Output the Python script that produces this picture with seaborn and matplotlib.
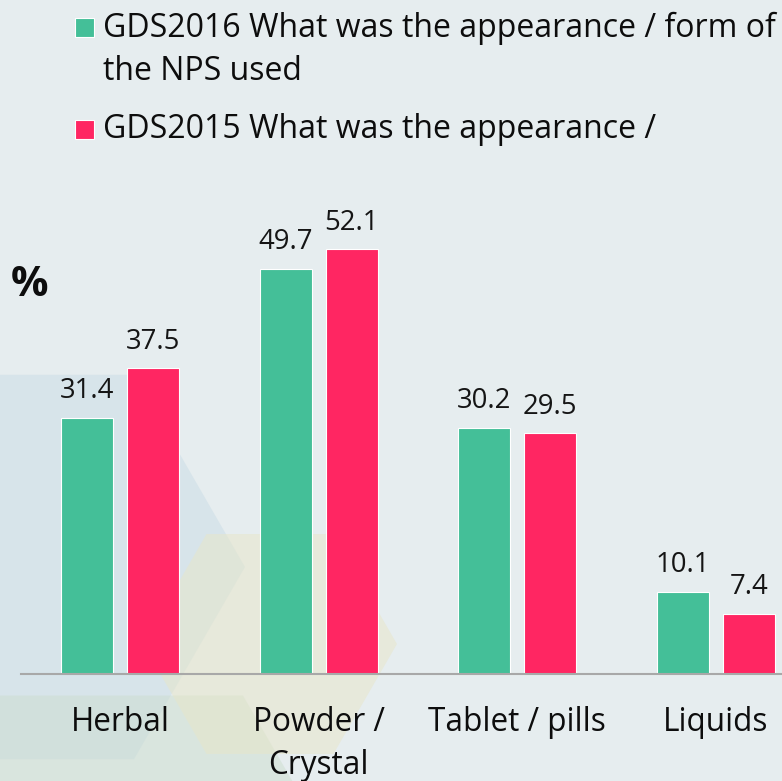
import matplotlib
matplotlib.use("Agg")
import matplotlib.pyplot as plt
from matplotlib.patches import Polygon, Rectangle
from matplotlib.transforms import IdentityTransform
import numpy as np
import pandas as pd
import seaborn as sns

# ---- data ----
categories = ["Herbal", "Powder /\nCrystal", "Tablet / pills", "Liquids"]
series_names = ["GDS2016 What was the appearance / form of\nthe NPS used",
                "GDS2015 What was the appearance /"]
values_2016 = [31.4, 49.7, 30.2, 10.1]
values_2015 = [37.5, 52.1, 29.5, 7.4]
series_colors = ["#44bf98", "#ff2662"]
y_unit = "%"

df = pd.DataFrame({
    "category": categories * 2,
    "value": values_2016 + values_2015,
    "series": [series_names[0]] * len(categories) + [series_names[1]] * len(categories),
})

plt.rcParams["font.family"] = ["Open Sans", "DejaVu Sans"]

W, H = 782, 781
fig = plt.figure(figsize=(W / 100, H / 100), dpi=100)
BG = "#e6edef"
fig.patch.set_facecolor(BG)


def hexagon(cx, cy, R, color, alpha):
    ang = np.deg2rad(np.arange(0, 360, 60))
    pts = [(cx + R * np.cos(a), H - (cy + R * np.sin(a))) for a in ang]
    p = Polygon(pts, closed=True, facecolor=color, edgecolor="none", alpha=alpha,
                transform=IdentityTransform(), zorder=-5)
    fig.add_artist(p)


# faint decorative background shapes
hexagon(23, 567, 222, "#c9dce6", 0.5)
hexagon(118, 912, 250, "#cddecf", 0.5)
hexagon(270, 644, 127, "#e8e6c8", 0.5)

# ---- axes ----
ax = fig.add_axes([20.6 / W, 107 / H, 794.8 / W, 489.4 / H])
ax.set_facecolor("none")
sns.barplot(data=df, x="category", y="value", hue="series", order=categories,
            hue_order=series_names, palette=series_colors, saturation=1,
            width=0.664, gap=0.212, edgecolor="white", linewidth=0.8,
            legend=False, ax=ax)
ax.set_ylim(0, 60)
ax.set_xlim(-0.5, len(categories) - 0.5)
ax.set_xlabel("")
ax.set_ylabel("")
ax.set_yticks([])
for s in ["left", "top", "right"]:
    ax.spines[s].set_visible(False)
ax.spines["bottom"].set_color("#a8a8a8")
ax.spines["bottom"].set_linewidth(1.5)
ax.tick_params(axis="x", length=0, pad=23, labelsize=22.7, labelcolor="#0d0d0d")
for lab in ax.get_xticklabels():
    lab.set_linespacing(1.41)

for cont in ax.containers:
    ax.bar_label(cont, fmt="%.1f", padding=9, fontsize=19.8, color="#151515")

fig.text(11 / W, 1 - 286 / H, y_unit, fontsize=30, fontweight="bold",
         ha="left", va="center", color="#0d0d0d")

# ---- legend (manual) ----
marker_centers = [27, 129]
first_baselines = [36.7, 138]
for name, color, mc, bl in zip(series_names, series_colors, marker_centers, first_baselines):
    fig.add_artist(Rectangle((75, H - mc - 9.5), 19, 19, facecolor=color,
                             edgecolor="white", linewidth=0.8,
                             transform=IdentityTransform()))
    for k, line in enumerate(name.split("\n")):
        fig.text(103 / W, 1 - (bl + 43.3 * k) / H, line, fontsize=23,
                 ha="left", va="baseline", color="#0d0d0d")

fig.savefig("out.png", dpi=100, facecolor=BG)
